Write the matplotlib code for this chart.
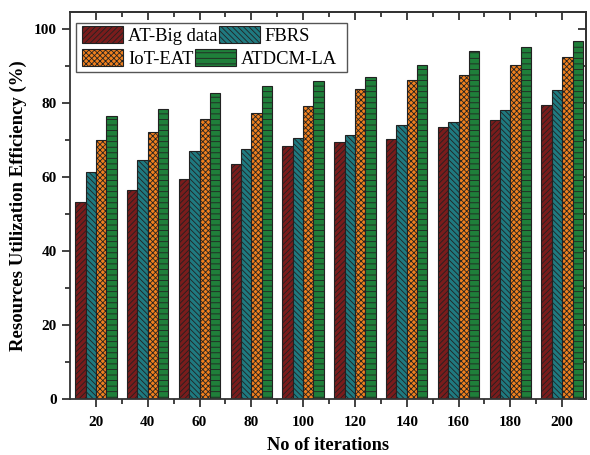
import numpy as np
import matplotlib
matplotlib.use('Agg')
import matplotlib.pyplot as plt
from matplotlib.ticker import MultipleLocator
from matplotlib.patches import Rectangle

# data
iterations = [20, 40, 60, 80, 100, 120, 140, 160, 180, 200]
at_big_data = [53.3, 56.5, 59.5, 63.4, 68.5, 69.4, 70.4, 73.5, 75.5, 79.5]
fbrs = [61.3, 64.7, 66.9, 67.5, 70.5, 71.4, 74.1, 74.8, 78.2, 83.4]
iot_eat = [70.1, 72.3, 75.8, 77.2, 79.3, 83.8, 86.2, 87.7, 90.3, 92.4]
atdcm_la = [76.4, 78.5, 82.6, 84.6, 85.9, 87.0, 90.3, 94.0, 95.1, 96.8]

series = [
    ('AT-Big data', at_big_data, '#7a1c1c', '//////'),
    ('FBRS', fbrs, '#1f7a80', '\\\\\\\\\\\\'),
    ('IoT-EAT', iot_eat, '#f0801e', 'xxxxxx'),
    ('ATDCM-LA', atdcm_la, '#1f7f3a', '---'),
]

plt.rcParams['font.family'] = ['Liberation Serif', 'DejaVu Serif']
plt.rcParams['hatch.color'] = '#222222'
plt.rcParams['hatch.linewidth'] = 0.6

W, H = 590, 455
fig = plt.figure(figsize=(W / 100, H / 100), dpi=100)
ax = fig.add_axes([70 / W, 1 - 399 / H, 516 / W, 387 / H])

x = np.array(iterations, dtype=float)
w = 4.0
offsets = [-1.5 * w, -0.5 * w, 0.5 * w, 1.5 * w]
bars = []
for (name, vals, col, hatch), off in zip(series, offsets):
    b = ax.bar(x + off, vals, width=w, color=col, edgecolor='#222222',
               linewidth=0.8, hatch=hatch, label=name)
    bars.append(b)

ax.set_xlim(10, 209.2)
ax.set_ylim(0, 104.6)
ax.set_xticks(iterations)
ax.set_xticks(np.arange(30, 210, 20), minor=True)
ax.yaxis.set_major_locator(MultipleLocator(20))
ax.yaxis.set_minor_locator(MultipleLocator(10))

ax.tick_params(axis='both', which='major', direction='out', length=6, width=1.3,
               labelsize=11, colors='#333333', labelcolor='black')
ax.tick_params(axis='x', which='major', pad=6)
ax.tick_params(axis='both', which='minor', direction='out', length=3.5, width=1.3,
               colors='#333333')
for lab in ax.get_xticklabels() + ax.get_yticklabels():
    lab.set_fontweight('bold')

# mirrored inward ticks on top and right
axt = ax.secondary_xaxis('top')
axt.set_xticks(iterations)
axt.set_xticks(np.arange(30, 210, 20), minor=True)
axt.tick_params(which='major', direction='in', length=6, width=1.3, colors='#333333', labeltop=False)
axt.tick_params(which='minor', direction='in', length=3.5, width=1.3, colors='#333333')
axr = ax.secondary_yaxis('right')
axr.yaxis.set_major_locator(MultipleLocator(20))
axr.yaxis.set_minor_locator(MultipleLocator(10))
axr.tick_params(which='major', direction='in', length=6, width=1.3, colors='#333333', labelright=False)
axr.tick_params(which='minor', direction='in', length=3.5, width=1.3, colors='#333333')

for a in (ax, axt, axr):
    for s in a.spines.values():
        s.set_linewidth(1.3)
        s.set_color('#333333')

ax.set_xlabel('No of iterations', fontsize=13.2, fontweight='bold', labelpad=6)
ax.set_ylabel('Resources Utilization Efficiency (%)', fontsize=13.5, fontweight='bold', labelpad=5)

# legend: frame drawn by hand, two rows placed freely like the original
frame = Rectangle((76 / W, 1 - 72 / H), 271 / W, 49 / H, transform=fig.transFigure,
                  facecolor='white', edgecolor='#555555', linewidth=1.0,
                  zorder=4, clip_on=False)
ax.add_patch(frame)

leg_kw = dict(loc='upper left', ncol=2, fontsize=13.4, frameon=False,
              handlelength=2.2, handleheight=1.0, handletextpad=0.27,
              columnspacing=0.08, borderpad=0, borderaxespad=0,
              bbox_transform=fig.transFigure)
leg1 = ax.legend([bars[0], bars[1]], [series[0][0], series[1][0]],
                 bbox_to_anchor=(82 / W, 1 - 26 / H), **leg_kw)
leg1.set_zorder(5)
ax.add_artist(leg1)
leg2 = ax.legend([bars[2], bars[3]], [series[2][0], series[3][0]],
                 bbox_to_anchor=(82 / W, 1 - 49 / H), **leg_kw)
leg2.set_zorder(5)

fig.savefig('out.png', dpi=100)
